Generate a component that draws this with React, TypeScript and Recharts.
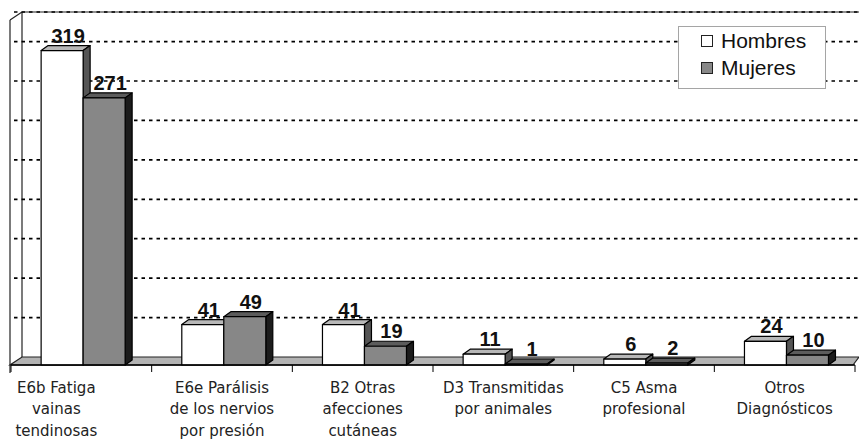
import { BarChart, Bar, XAxis, YAxis, CartesianGrid, Legend, LabelList } from "recharts";

const categories = [
  "E6b Fatiga\nvainas\ntendinosas",
  "E6e Parálisis\nde los nervios\npor presión",
  "B2 Otras\nafecciones\ncutáneas",
  "D3 Transmitidas\npor animales",
  "C5 Asma\nprofesional",
  "Otros\nDiagnósticos",
];
const hombres = [319, 41, 41, 11, 6, 24];
const mujeres = [271, 49, 19, 1, 2, 10];
const yTicks = [0, 40, 80, 120, 160, 200, 240, 280, 320];

const data = categories.map((name, i) => ({ name, hombres: hombres[i], mujeres: mujeres[i] }));

// layout of the pseudo-3D frame (front plane = plot area)
const W = 859;
const H = 439;
const LEFT = 11;
const RIGHT = 855;
const TOP = 20;
const BOTTOM = 365;
const WALL_DX = 12;
const WALL_DY = 8;
const BAR_DX = 7;
const BAR_DY = 5;
const BAR_SHIFT = 2;

const sansBold = '"Liberation Sans", Arial, sans-serif';
const verdana = '"DejaVu Sans", Verdana, sans-serif';

function bar3D(front: string, top: string, side: string) {
  return (props: any) => {
    const { x, y, width, height } = props;
    if (width == null || height == null) return <g />;
    const x0 = x + BAR_SHIFT;
    const x1 = x0 + width;
    const y1 = y + height;
    return (
      <g stroke="#000" strokeWidth={1.2} strokeLinejoin="round">
        <polygon
          points={`${x0},${y} ${x0 + BAR_DX},${y - BAR_DY} ${x1 + BAR_DX},${y - BAR_DY} ${x1},${y}`}
          fill={top}
        />
        <polygon
          points={`${x1},${y} ${x1 + BAR_DX},${y - BAR_DY} ${x1 + BAR_DX},${y1 - BAR_DY} ${x1},${y1}`}
          fill={side}
        />
        <rect x={x0} y={y} width={width} height={Math.max(height, 0.5)} fill={front} />
      </g>
    );
  };
}

function ValueLabel(props: any) {
  const { x, y, width, value } = props;
  return (
    <text
      x={Number(x) + Number(width) / 2 + 8}
      y={Number(y) - 8}
      textAnchor="middle"
      fontFamily={sansBold}
      fontWeight="bold"
      fontSize={20}
      fill="#111"
    >
      {value}
    </text>
  );
}

function CategoryTick(props: any) {
  const { x, index, payload } = props;
  const band = (RIGHT - LEFT) / categories.length;
  const lines = String(payload.value).split("\n");
  const cx = x + (index === 0 ? -25 : 0);
  return (
    <g>
      <line x1={x - band / 2} x2={x - band / 2} y1={BOTTOM} y2={BOTTOM + 7} stroke="#000" />
      {index === categories.length - 1 && (
        <line x1={x + band / 2} x2={x + band / 2} y1={BOTTOM} y2={BOTTOM + 7} stroke="#000" />
      )}
      <text x={cx} y={BOTTOM + 27.5} textAnchor="middle" fontFamily={verdana} fontSize={15} fill="#222">
        {lines.map((l, i) => (
          <tspan key={i} x={cx} dy={i === 0 ? 0 : 21.5}>
            {l}
          </tspan>
        ))}
      </text>
    </g>
  );
}

// gridlines sit on the back wall; the zero line becomes the floor + left wall
function GridLine(props: any) {
  const { x1, x2, y1, index } = props;
  if (Math.abs(y1 - BOTTOM) < 1) {
    return (
      <g key={`floor-${index}`} stroke="#222" strokeWidth={1.2} fill="none">
        <polygon
          points={`${x1 - 1},${BOTTOM} ${x2 - 2},${BOTTOM} ${x2 + 4},${BOTTOM - WALL_DY} ${x1 - 1 + WALL_DX},${BOTTOM - WALL_DY}`}
          fill="#b3b3b3"
        />
        <line x1={x1 - 1} y1={TOP} x2={x1 - 1} y2={BOTTOM + 8} />
        <line x1={x1 - 1 + WALL_DX} y1={TOP - WALL_DY} x2={x1 - 1 + WALL_DX} y2={BOTTOM - WALL_DY} />
        <line x1={x1 - 1} y1={TOP} x2={x1 - 1 + WALL_DX} y2={TOP - WALL_DY} />
        <line x1={x1 - 1 + WALL_DX} y1={TOP - WALL_DY} x2={W} y2={TOP - WALL_DY} />
      </g>
    );
  }
  return (
    <line
      key={`grid-${index}`}
      x1={x1 + 3}
      x2={W}
      y1={y1 - WALL_DY}
      y2={y1 - WALL_DY}
      stroke="#000"
      strokeWidth={1.7}
      strokeDasharray="3.5 4"
    />
  );
}

function LegendBox({ payload }: any) {
  return (
    <div
      style={{
        width: 148,
        height: 63,
        boxSizing: "border-box",
        border: "1px solid #a5a5a5",
        background: "#fff",
        fontFamily: sansBold,
        fontSize: 21,
        color: "#111",
      }}
    >
      {(payload || []).map((entry: any) => (
        <div key={entry.value} style={{ display: "flex", alignItems: "center", height: 27, lineHeight: "27px" }}>
          <span
            style={{
              display: "inline-block",
              width: 12,
              height: 12,
              marginLeft: 22,
              marginRight: 8,
              boxSizing: "border-box",
              border: "1.5px solid #222",
              background: entry.color,
            }}
          />
          {entry.value}
        </div>
      ))}
    </div>
  );
}

export default function App() {
  return (
    <div style={{ position: "absolute", left: 0, top: 0, background: "#fff" }}>
      <BarChart
        width={W}
        height={H}
        data={data}
        margin={{ top: TOP, right: W - RIGHT, left: LEFT, bottom: 0 }}
        barCategoryGap="20%"
        barGap={0}
      >
        <CartesianGrid vertical={false} horizontal={GridLine} />
        <XAxis
          dataKey="name"
          height={H - BOTTOM}
          interval={0}
          tickLine={false}
          axisLine={{ stroke: "#000", strokeWidth: 1.6 }}
          tick={CategoryTick}
        />
        <YAxis hide domain={[0, 350]} ticks={yTicks} />
        <Legend
          layout="vertical"
          align="center"
          verticalAlign="middle"
          content={LegendBox}
          wrapperStyle={{ left: 678, top: 26, width: 148, height: 63 }}
        />
        <Bar
          dataKey="hombres"
          name="Hombres"
          fill="#ffffff"
          shape={bar3D("#ffffff", "#b8b8b8", "#555555")}
          isAnimationActive={false}
        >
          <LabelList dataKey="hombres" content={ValueLabel} />
        </Bar>
        <Bar
          dataKey="mujeres"
          name="Mujeres"
          fill="#888888"
          shape={bar3D("#878787", "#5c5c5c", "#1c1c1c")}
          isAnimationActive={false}
        >
          <LabelList dataKey="mujeres" content={ValueLabel} />
        </Bar>
      </BarChart>
    </div>
  );
}
